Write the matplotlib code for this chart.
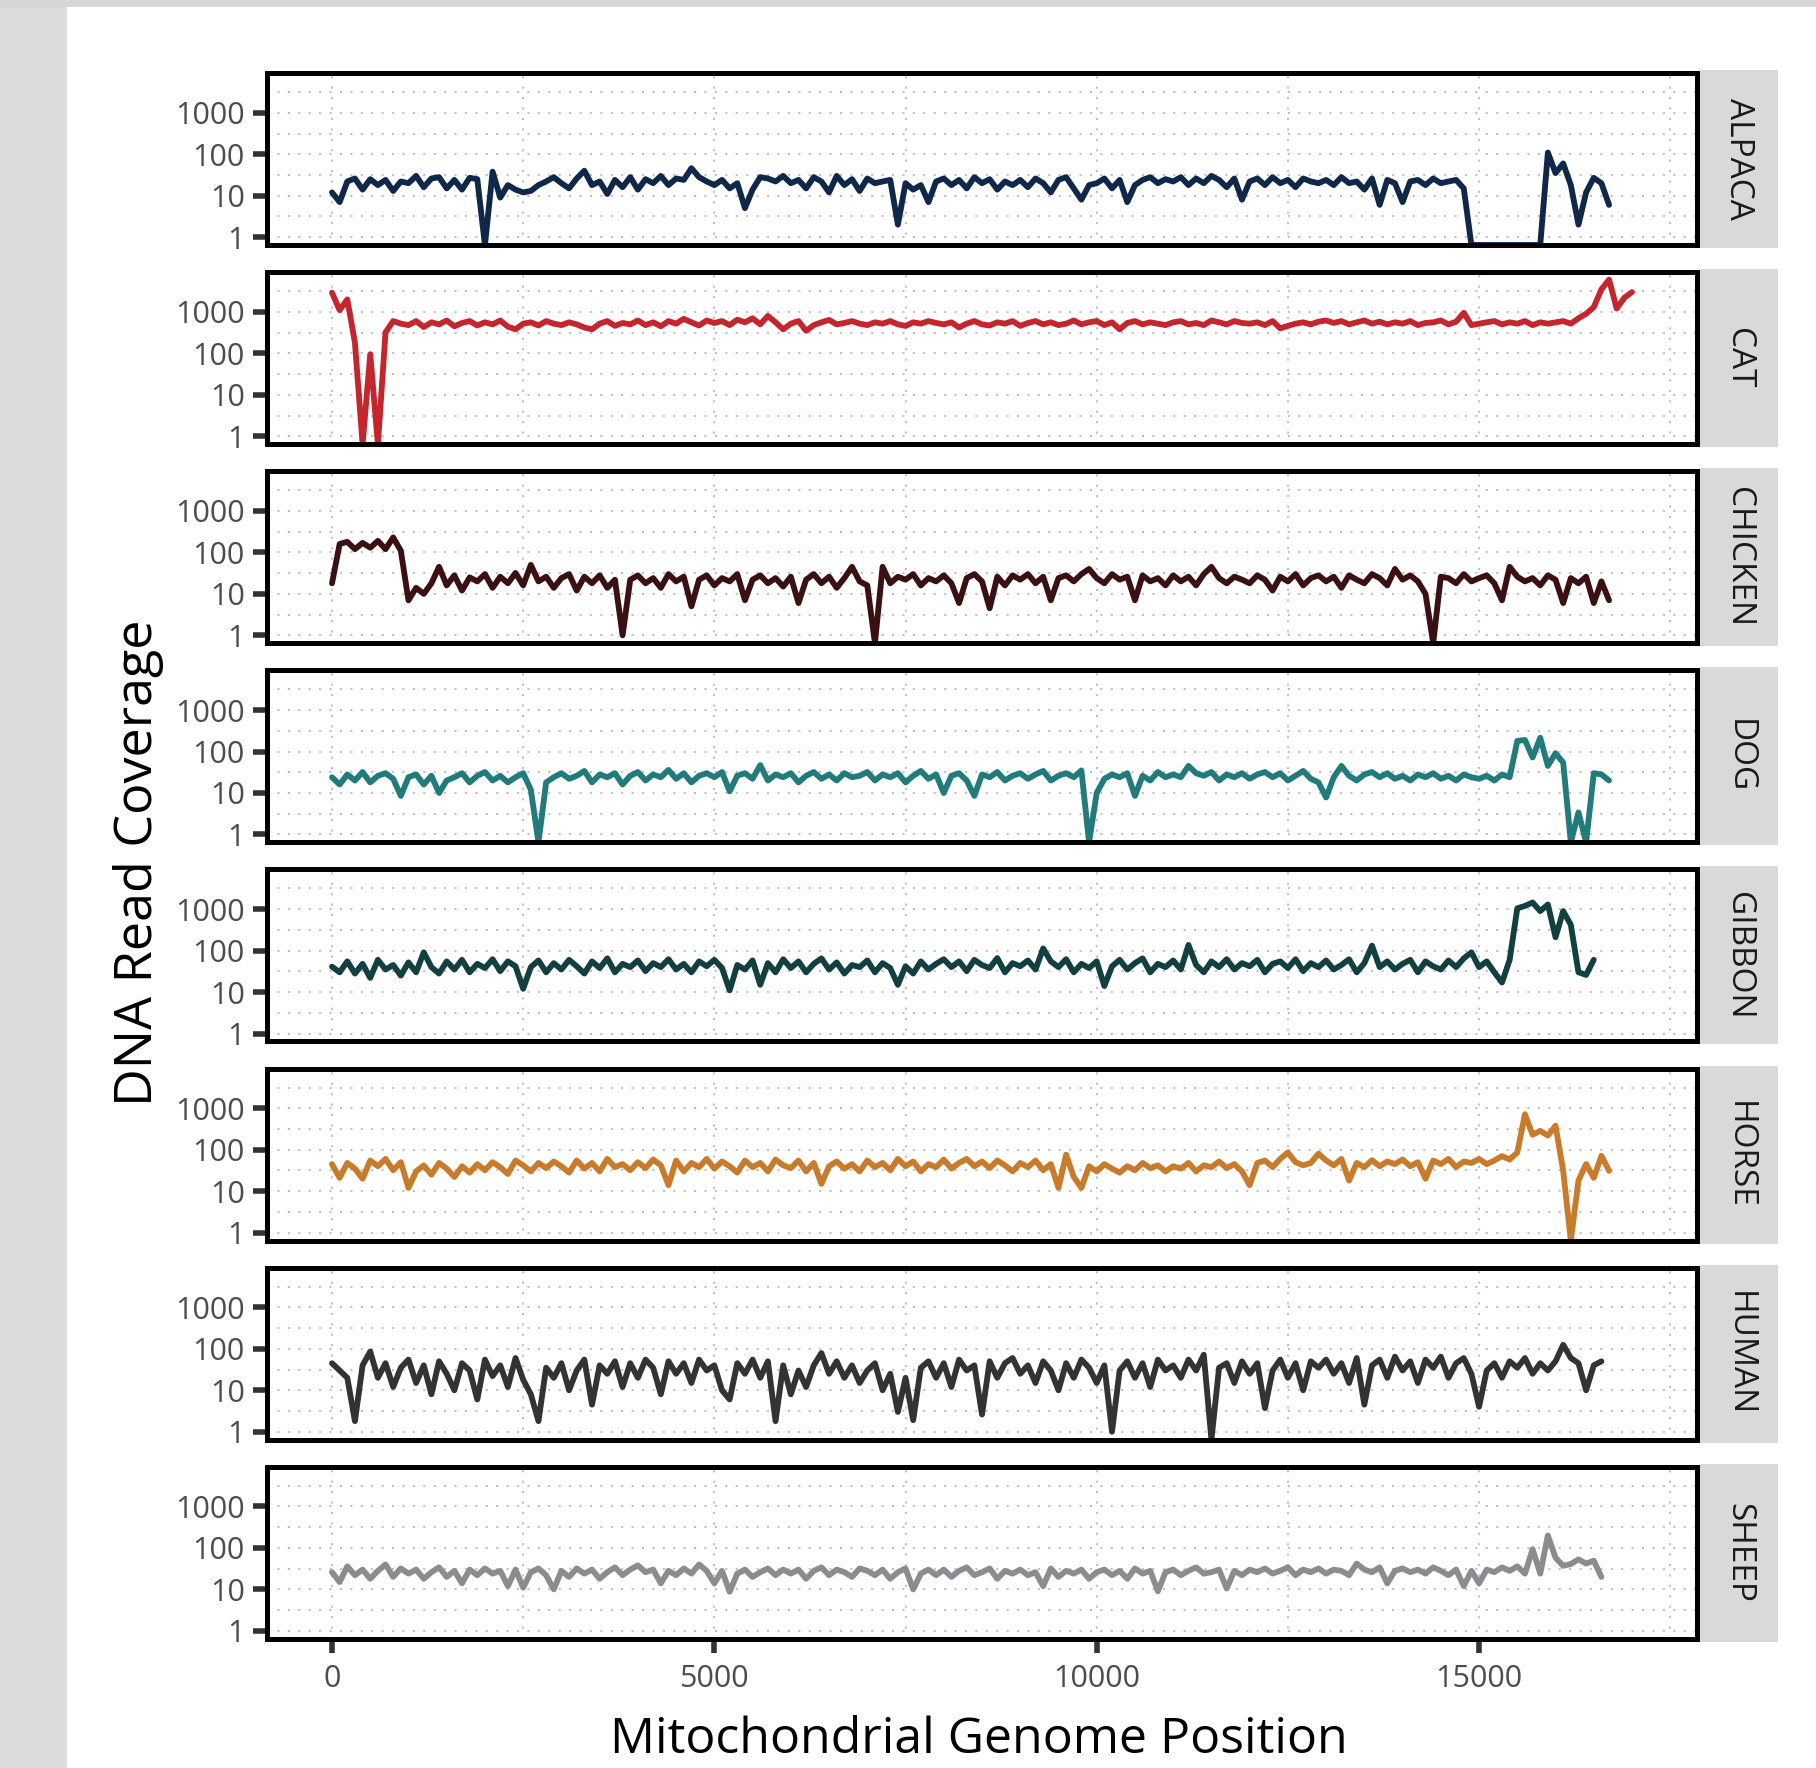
import numpy as np
import matplotlib
matplotlib.use("Agg")
import matplotlib.pyplot as plt
from matplotlib.patches import Rectangle
from matplotlib.ticker import FixedLocator, NullFormatter

plt.rcParams["font.family"] = ["Open Sans", "DejaVu Sans"]

# ---- data: coverage in 100 bp windows ----
STEP = 100  # bp per window

SPECIES = ["ALPACA", "CAT", "CHICKEN", "DOG", "GIBBON", "HORSE", "HUMAN", "SHEEP"]
COLORS = ["#0f2748", "#c4262e", "#3a1012", "#217b7b", "#123f3f", "#c97b2c", "#333333", "#8b8c90"]

alpaca = [
    12, 7, 22, 26, 14, 25, 18, 24, 13, 22,
    20, 30, 16, 26, 28, 15, 24, 14, 27, 25,
    0, 38, 9, 18, 14, 12, 13, 18, 22, 28,
    20, 15, 26, 40, 18, 22, 11, 24, 16, 28,
    14, 25, 20, 30, 18, 26, 24, 46, 28, 22,
    18, 24, 15, 20, 5, 14, 28, 26, 22, 30,
    20, 24, 15, 28, 22, 12, 30, 18, 25, 13,
    26, 20, 22, 24, 2, 20, 14, 18, 7, 22,
    26, 18, 24, 15, 28, 20, 25, 14, 22, 18,
    24, 16, 26, 20, 12, 24, 28, 15, 8, 18,
    20, 26, 15, 24, 7, 18, 24, 28, 20, 25,
    22, 28, 18, 26, 20, 30, 24, 16, 26, 8,
    22, 26, 18, 28, 20, 24, 16, 26, 22, 20,
    24, 18, 28, 20, 22, 14, 26, 6, 24, 20,
    7, 22, 24, 18, 26, 20, 22, 24, 15, 0,
    0, 0, 0, 0, 0, 0, 0, 0, 0, 110,
    35, 60, 18, 2, 12, 27, 20, 6,
]

cat = [
    2900, 1100, 2000, 180, 0, 95, 0, 320, 600, 520,
    480, 600, 430, 560, 500, 620, 450, 540, 600, 470,
    560, 500, 620, 440, 380, 520, 560, 470, 600, 520,
    480, 560, 500, 420, 380, 520, 600, 460, 540, 500,
    620, 480, 560, 450, 600, 520, 680, 560, 470, 620,
    540, 600, 480, 650, 560, 700, 500, 800, 560, 380,
    520, 600, 350, 480, 560, 640, 500, 540, 600, 520,
    480, 560, 520, 600, 500, 460, 560, 520, 600, 540,
    500, 560, 420, 520, 600, 500, 470, 560, 520, 600,
    460, 540, 600, 500, 560, 480, 520, 620, 500, 560,
    600, 480, 560, 380, 540, 600, 500, 560, 520, 480,
    560, 600, 500, 540, 480, 620, 560, 500, 600, 540,
    520, 560, 480, 600, 400, 460, 520, 560, 500, 580,
    620, 540, 600, 500, 560, 620, 520, 580, 500, 560,
    520, 600, 480, 540, 560, 620, 500, 580, 950, 480,
    520, 560, 600, 500, 560, 520, 600, 480, 560, 520,
    560, 600, 520, 700, 900, 1300, 3500, 6000, 1200, 2200,
    3000,
]

chicken = [
    18, 160, 180, 120, 170, 130, 190, 120, 230, 110,
    7, 14, 10, 18, 45, 16, 28, 12, 25, 20,
    30, 14, 26, 18, 32, 16, 50, 20, 26, 14,
    24, 30, 12, 26, 18, 28, 14, 22, 1, 22,
    28, 18, 24, 14, 30, 20, 26, 5, 22, 28,
    16, 24, 20, 30, 7, 22, 28, 18, 24, 15,
    26, 6, 22, 30, 18, 26, 14, 24, 45, 20,
    16, 0, 45, 18, 26, 22, 30, 16, 24, 20,
    28, 18, 6, 24, 30, 20, 4.5, 26, 16, 28,
    22, 30, 18, 26, 7, 24, 28, 20, 30, 40,
    24, 18, 30, 22, 26, 7, 28, 20, 24, 16,
    28, 20, 26, 16, 30, 45, 24, 18, 26, 22,
    18, 28, 22, 12, 26, 20, 30, 16, 24, 28,
    20, 26, 14, 28, 22, 18, 30, 24, 16, 40,
    22, 28, 20, 10, 0, 26, 24, 18, 30, 20,
    24, 28, 18, 7, 45, 26, 20, 24, 16, 28,
    22, 6, 24, 18, 26, 6, 20, 7,
]

dog = [
    24, 16, 28, 20, 32, 18, 26, 30, 22, 8.5,
    24, 28, 16, 26, 10, 20, 24, 30, 18, 26,
    32, 20, 26, 18, 24, 30, 12, 0, 18, 24,
    30, 22, 26, 34, 18, 28, 24, 30, 16, 26,
    32, 20, 28, 24, 36, 22, 30, 18, 26, 30,
    24, 32, 11, 26, 30, 22, 47, 20, 28, 24,
    30, 18, 26, 32, 22, 28, 20, 30, 24, 26,
    32, 20, 28, 24, 30, 18, 26, 34, 22, 28,
    10, 26, 30, 20, 8.5, 28, 24, 32, 20, 26,
    30, 22, 28, 34, 20, 26, 30, 24, 35, 0,
    10, 22, 28, 24, 30, 8.5, 26, 20, 32, 24,
    28, 24, 45, 30, 26, 32, 20, 28, 24, 30,
    22, 28, 32, 24, 30, 20, 26, 34, 22, 18,
    7.8, 24, 45, 26, 20, 28, 32, 24, 30, 22,
    26, 20, 28, 24, 30, 22, 26, 20, 28, 24,
    22, 26, 20, 28, 24, 180, 190, 72, 215, 45,
    91, 54, 0, 3.4, 0, 30, 28, 20,
]

gibbon = [
    41, 30, 55, 28, 48, 22, 60, 35, 45, 25,
    52, 30, 91, 40, 28, 55, 35, 60, 30, 48,
    38, 62, 32, 55, 42, 12, 40, 58, 30, 50,
    35, 60, 42, 28, 55, 38, 65, 30, 48, 40,
    58, 32, 50, 40, 62, 35, 48, 30, 55, 42,
    60, 38, 11, 45, 35, 58, 15, 50, 30, 62,
    38, 55, 30, 48, 65, 35, 52, 28, 45, 40,
    58, 30, 50, 38, 15, 42, 28, 55, 35, 48,
    62, 40, 55, 32, 60, 45, 38, 66, 30, 50,
    42, 58, 35, 113, 55, 40, 62, 30, 48, 38,
    55, 14, 42, 60, 35, 50, 65, 30, 48, 40,
    58, 35, 137, 45, 30, 55, 40, 62, 35, 50,
    42, 60, 30, 48, 55, 38, 62, 32, 50, 40,
    58, 35, 45, 62, 30, 50, 132, 40, 55, 35,
    48, 60, 30, 55, 42, 35, 58, 40, 65, 91,
    40, 55, 30, 17, 60, 1050, 1200, 1450, 900, 1300,
    210, 900, 420, 30, 26, 60,
]

horse = [
    45, 21, 48, 35, 20, 55, 40, 60, 32, 50,
    12, 30, 42, 25, 48, 35, 22, 40, 28, 45,
    32, 50, 38, 26, 55, 42, 30, 48, 36, 52,
    40, 28, 55, 35, 48, 30, 60, 38, 45, 32,
    50, 36, 58, 42, 14, 55, 30, 48, 38, 60,
    35, 52, 40, 28, 55, 38, 48, 30, 58, 42,
    36, 55, 30, 48, 15, 40, 52, 35, 45, 30,
    55, 38, 48, 32, 60, 40, 52, 30, 45, 38,
    58, 35, 48, 60, 40, 52, 36, 55, 42, 30,
    48, 38, 55, 32, 45, 12, 76, 22, 12, 40,
    30, 45, 35, 28, 40, 32, 48, 36, 42, 30,
    40, 35, 48, 30, 42, 38, 52, 36, 45, 30,
    14, 48, 55, 38, 60, 86, 50, 42, 48, 80,
    55, 42, 60, 18, 48, 38, 56, 40, 52, 45,
    58, 40, 50, 20, 55, 45, 60, 38, 52, 48,
    60, 45, 55, 70, 58, 86, 720, 230, 285, 220,
    380, 31, 0, 18, 45, 21, 71, 31,
]

human = [
    45, 30, 20, 1.8, 40, 86, 20, 45, 12, 35,
    55, 15, 40, 8, 50, 25, 10, 45, 30, 6,
    55, 22, 40, 12, 60, 18, 8, 1.8, 35, 20,
    45, 10, 30, 55, 4.5, 40, 25, 50, 12, 45,
    20, 55, 35, 8, 50, 25, 45, 15, 55, 30,
    40, 10, 6, 45, 25, 55, 20, 50, 1.8, 40,
    8, 30, 12, 40, 79, 25, 50, 20, 40, 15,
    30, 45, 10, 25, 3, 20, 1.9, 35, 50, 20,
    45, 12, 55, 30, 40, 2.6, 50, 20, 45, 60,
    25, 40, 15, 50, 30, 10, 45, 20, 55, 35,
    15, 40, 1, 30, 50, 20, 45, 12, 55, 30,
    40, 20, 55, 30, 72, 0, 35, 45, 15, 50,
    25, 45, 3.7, 30, 55, 20, 45, 10, 50, 35,
    55, 25, 45, 15, 60, 4.5, 40, 55, 20, 65,
    30, 50, 15, 55, 35, 65, 20, 45, 60, 25,
    4, 30, 45, 20, 50, 35, 60, 25, 45, 30,
    50, 125, 60, 45, 10, 40, 50,
]

sheep = [
    26, 15, 36, 22, 30, 18, 28, 40, 20, 32,
    24, 30, 18, 26, 34, 20, 28, 14, 30, 22,
    32, 24, 28, 12, 30, 11, 26, 32, 22, 10,
    28, 20, 32, 24, 30, 18, 26, 34, 22, 30,
    38, 26, 30, 14, 28, 22, 32, 24, 40, 28,
    14, 28, 8.8, 24, 30, 20, 26, 32, 22, 30,
    24, 30, 18, 28, 34, 22, 30, 26, 20, 32,
    28, 22, 30, 18, 26, 32, 10, 24, 30, 22,
    30, 20, 28, 34, 22, 26, 32, 18, 28, 24,
    30, 22, 26, 12, 32, 20, 28, 24, 30, 18,
    26, 30, 22, 28, 18, 32, 24, 28, 9, 26,
    30, 22, 28, 34, 24, 26, 30, 10.5, 28, 22,
    30, 26, 32, 24, 28, 34, 22, 30, 26, 32,
    24, 30, 28, 22, 42, 30, 26, 34, 14, 28,
    32, 26, 30, 24, 34, 28, 22, 30, 12, 28,
    14, 30, 26, 34, 28, 36, 24, 93, 24, 200,
    58, 37, 41, 53, 42, 49, 20,
]

SERIES = [alpaca, cat, chicken, dog, gibbon, horse, human, sheep]

Y_TICKS = [1, 10, 100, 1000]
Y_MINOR = [10 ** 0.5, 10 ** 1.5, 10 ** 2.5, 10 ** 3.5]
X_TICKS = [0, 5000, 10000, 15000]
X_MINOR = [2500, 7500, 12500, 17500]
YMIN, YMAX = 10 ** -0.19, 10 ** 3.96
XMIN, XMAX = -850, 17850

# ---- layout (pixels of the 1816x1768 canvas) ----
W, H = 1816, 1768
PANEL_L, PANEL_R = 267, 1697
PANEL_TOP0, PANEL_GAP, PANEL_H = 73, 199.1, 172
STRIP_R = 1778

fig = plt.figure(figsize=(W / 100, H / 100), dpi=100, facecolor="white")
fig.add_artist(Rectangle((0, 0), 67 / W, 1, transform=fig.transFigure,
                         facecolor="#dcdcdc", edgecolor="none", zorder=-5))
fig.add_artist(Rectangle((0, 1 - 7 / H), 1, 7 / H, transform=fig.transFigure,
                         facecolor="#d6d6d6", edgecolor="none", zorder=-5))

grid_style = dict(color="#c2c2c2", linestyle=(0, (1, 4)), linewidth=1.5)

for i, (name, vals, col) in enumerate(zip(SPECIES, SERIES, COLORS)):
    top = PANEL_TOP0 + i * PANEL_GAP
    ax = fig.add_axes([PANEL_L / W, 1 - (top + PANEL_H) / H,
                       (PANEL_R - PANEL_L) / W, PANEL_H / H])
    cov = np.array(vals, dtype=float)
    cov[cov <= 0] = YMIN  # zero coverage sits on the panel floor, like -Inf in ggplot
    pos = np.arange(len(cov)) * STEP
    ax.plot(pos, cov, color=col, lw=4.2, solid_joinstyle="round",
            solid_capstyle="round", zorder=3)

    ax.set_yscale("log")
    ax.set_ylim(YMIN, YMAX)
    ax.set_xlim(XMIN, XMAX)
    ax.yaxis.set_major_locator(FixedLocator(Y_TICKS))
    ax.set_yticklabels([str(t) for t in Y_TICKS])
    ax.yaxis.set_minor_locator(FixedLocator(Y_MINOR))
    ax.yaxis.set_minor_formatter(NullFormatter())
    ax.xaxis.set_major_locator(FixedLocator(X_TICKS))
    ax.xaxis.set_minor_locator(FixedLocator(X_MINOR))
    ax.set_axisbelow(True)
    ax.grid(True, which="both", **grid_style)

    ax.tick_params(axis="y", which="major", length=10, width=4, color="#333333",
                   labelsize=22, labelcolor="#4d4d4d", pad=6)
    ax.tick_params(axis="both", which="minor", length=0)
    if i == len(SPECIES) - 1:
        ax.set_xticklabels([str(t) for t in X_TICKS])
        ax.tick_params(axis="x", which="major", length=10, width=4, color="#333333",
                       labelsize=22, labelcolor="#4d4d4d", pad=8)
    else:
        ax.tick_params(axis="x", which="major", length=0, labelbottom=False)

    for sp in ax.spines.values():
        sp.set_linewidth(3.6)
        sp.set_color("black")
        sp.set_zorder(4)

    # facet strip on the right
    fig.add_artist(Rectangle((1700 / W, 1 - (top + PANEL_H + 3) / H),
                             (STRIP_R - 1700) / W, (PANEL_H + 6) / H,
                             transform=fig.transFigure, facecolor="#d9d9d9",
                             edgecolor="none"))
    fig.text((1700 + STRIP_R) / 2 / W, 1 - (top + PANEL_H / 2) / H, name,
             rotation=-90, ha="center", va="center", fontsize=24, color="#1a1a1a")

fig.text(139 / W, 1 - 863 / H, "DNA Read Coverage", rotation=90,
         ha="center", va="center", fontsize=37.5, color="black")
fig.text(979 / W, 1 - 1740 / H, "Mitochondrial Genome Position",
         ha="center", va="center", fontsize=36, color="black")

fig.savefig("out.png", dpi=100, facecolor="white")
